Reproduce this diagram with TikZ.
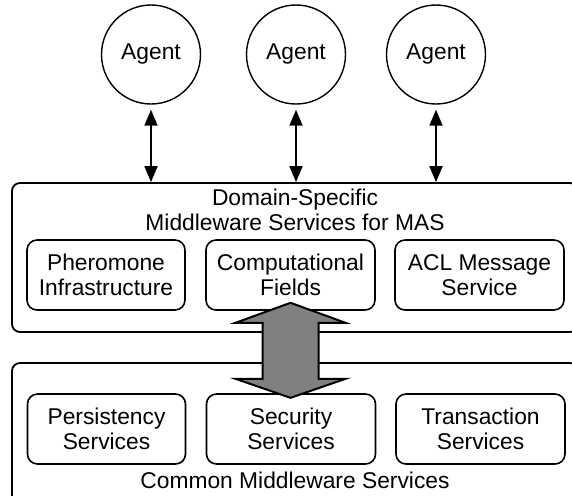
\documentclass[tikz,border=0pt]{standalone}
\usepackage{fontspec}
\setmainfont{Liberation Sans}
\usetikzlibrary{arrows.meta}

\tikzset{
  agent/.style={draw, circle, line width=0.7pt, minimum size=49.5pt, inner sep=0pt},
  layer/.style={draw, rounded corners=4pt, line width=0.9pt, minimum width=283pt, minimum height=74.5pt},
  service/.style={draw, rounded corners=5pt, line width=0.8pt, minimum width=84.5pt, minimum height=35pt, align=center, inner sep=0pt},
  bigarrow/.style={draw, fill=gray, line width=1pt, line join=miter},
}

\begin{document}
\begin{tikzpicture}[x=0.5pt, y=-0.5pt, font=\fontsize{11.4}{12.5}\selectfont]
    \useasboundingbox (0,0) rectangle (572,495);
    \clip (0,0) rectangle (572,495);
    % the two middleware layers
    \node[layer] (dsms) at (295,257.5) {};
    \node[layer] (cms) at (295,437.5) {};
    \node[align=center] (dstitle) at (295,210) {Domain-Specific\\Middleware Services for MAS};
    \node (cmstitle) at (295,480.5) {Common Middleware Services};
    \node[service, minimum width=79pt] (pher) at (106,275) {Pheromone\\Infrastructure};
    \node[service] (comp) at (290.5,275) {Computational\\Fields};
    \node[service] (acl) at (479.5,275) {ACL Message\\Service};
    \node[service, minimum width=79pt] (pers) at (106.5,429) {Persistency\\Services};
    \node[service] (sec) at (291,429) {Security\\Services};
    \node[service] (trans) at (480.5,429) {Transaction\\Services};
    \foreach \x/\i in {151/1, 296/2, 436/3}
    {
      \node[agent] (agent\i) at (\x,54.5) {Agent};
      \draw[{Triangle[length=8pt,width=6.5pt]}-{Triangle[length=8pt,width=6.5pt]}, line width=0.9pt, shorten <=2.5pt]
        (agent\i.south) -- (agent\i.south |- dsms.north);
    }
    % big arrow between the layers
    \draw[bigarrow] ([yshift=4pt]comp.south) -- ++(55,20) -- ++(-27,0) -- ++(0,56) -- ++(27,0)
      -- ++(-55,19) -- ++(-55,-19) -- ++(27,0) -- ++(0,-56) -- ++(-27,0) -- cycle;
\end{tikzpicture}
\end{document}
